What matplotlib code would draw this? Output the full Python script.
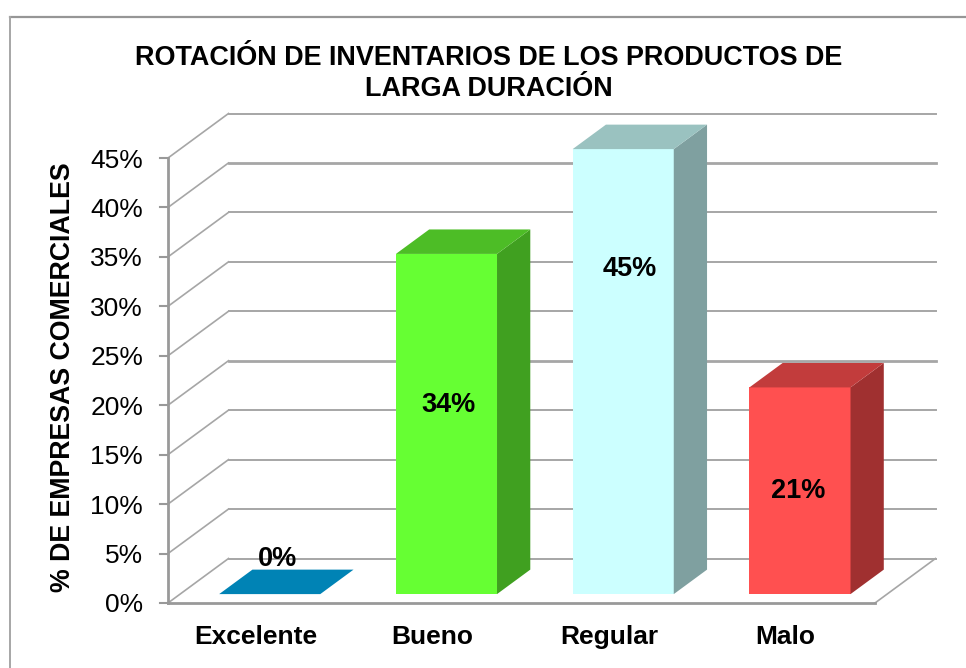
import matplotlib
matplotlib.use('Agg')
import matplotlib.pyplot as plt
from matplotlib.lines import Line2D
from matplotlib.patches import Polygon

plt.rcParams['font.family'] = ['Liberation Sans', 'DejaVu Sans']

categories = ['Excelente', 'Bueno', 'Regular', 'Malo']
values = [0, 34.4, 45, 20.9]
front_colors = ['#0083B5', '#66FF33', '#CCFFFF', '#FF5050']
top_colors = ['#0083B5', '#4DBD26', '#9AC2C0', '#C23C3C']
side_colors = ['#0083B5', '#40A020', '#7FA0A0', '#A03030']
y_ticks = [0, 5, 10, 15, 20, 25, 30, 35, 40, 45]
thick_ticks = [20, 40]

W, H = 966, 668
GRID = '#A6A6A6'
AXIS = '#999999'

# depth of the fake 3d box, in data units
DX = 60.5 / 176.75
DY = 44.5 / 9.889
BAR_FRONT = 0.2
BAR_BACK = 0.75
BAR_W = 0.572
BAR_SHIFT = 0.007

# where the value labels sit (data units)
label_x = [0.12, 1.085, 2.11, 3.065]
label_y = [4.5, 20.0, 33.8, 11.3]


def p3(x, y, d=0):
    return (x + d * DX, y + d * DY)


fig = plt.figure(figsize=(W / 100, H / 100), dpi=100)
ax = fig.add_axes([168 / W, 1 - 603 / H, 707 / W, 445 / H])
ax.set_xlim(-0.5, 3.5)
ax.set_ylim(0, 45)
ax.axis('off')

# outer frame, only top and left are in the picture
fig.add_artist(Line2D([9.5 / W, 1], [1 - 16.5 / H, 1 - 16.5 / H], color='#969696', lw=1.6))
fig.add_artist(Line2D([9.5 / W, 9.5 / W], [0, 1 - 16.5 / H], color='#A6A6A6', lw=1.4))

# grid on the back wall and the side wall
for t in y_ticks:
    lw = 2.0 if t in thick_ticks else 1.4
    x0, y0 = p3(-0.5, t)
    x1, y1 = p3(-0.5, t, 1)
    x2, y2 = p3(3.5, t, 1)
    ax.plot([x0, x1], [y0, y1], color=GRID, lw=1.2, clip_on=False, zorder=1)
    ax.plot([x1, x2], [y1, y2], color=GRID, lw=lw, clip_on=False, zorder=1)
    ax.plot([-0.5 - 8 / 176.75, -0.5], [t, t], color=AXIS, lw=1.5, clip_on=False, zorder=2)
    ax.text(-0.5 - 25 / 176.75, t, f'{t}%', ha='right', va='center_baseline', fontsize=19, clip_on=False)

# floor and axis
ax.plot([-0.5, -0.5], [0, 45], color=AXIS, lw=2.0, clip_on=False, zorder=2)
ax.plot([-0.5, 3.5], [0, 0], color=AXIS, lw=2.0, clip_on=False, zorder=2)
ax.plot(*zip(p3(3.5, 0), p3(3.5, 0, 1)), color=GRID, lw=1.2, clip_on=False, zorder=1)

for i, v in enumerate(values):
    xl = i + BAR_SHIFT - BAR_W / 2
    xr = i + BAR_SHIFT + BAR_W / 2
    if v > 0:
        ax.add_patch(Polygon([p3(xl, 0, BAR_FRONT), p3(xr, 0, BAR_FRONT), p3(xr, v, BAR_FRONT), p3(xl, v, BAR_FRONT)],
                             facecolor=front_colors[i], edgecolor='none', clip_on=False, zorder=3))
        ax.add_patch(Polygon([p3(xr, 0, BAR_FRONT), p3(xr, 0, BAR_BACK), p3(xr, v, BAR_BACK), p3(xr, v, BAR_FRONT)],
                             facecolor=side_colors[i], edgecolor='none', clip_on=False, zorder=3))
    ax.add_patch(Polygon([p3(xl, v, BAR_FRONT), p3(xr, v, BAR_FRONT), p3(xr, v, BAR_BACK), p3(xl, v, BAR_BACK)],
                         facecolor=top_colors[i], edgecolor='none', clip_on=False, zorder=3))
    ax.text(label_x[i], label_y[i], f'{v:.0f}%', ha='center', va='center', fontsize=19.5, fontweight='bold',
            clip_on=False, zorder=5)
    ax.text(i - 0.005, -3.4, categories[i], ha='center', va='center', fontsize=19, fontweight='bold', clip_on=False)

fig.text(488.5 / W, 1 - 58 / H, 'ROTACIÓN DE INVENTARIOS DE LOS PRODUCTOS DE',
         ha='center', va='center', fontsize=19.45, fontweight='bold')
fig.text(488.5 / W, 1 - 89 / H, 'LARGA DURACIÓN',
         ha='center', va='center', fontsize=19.45, fontweight='bold')
fig.text(63 / W, 1 - 377.5 / H, '% DE EMPRESAS COMERCIALES', rotation=90, ha='center', va='center',
         fontsize=19.3, fontweight='bold')

fig.savefig('out.png', dpi=100)
